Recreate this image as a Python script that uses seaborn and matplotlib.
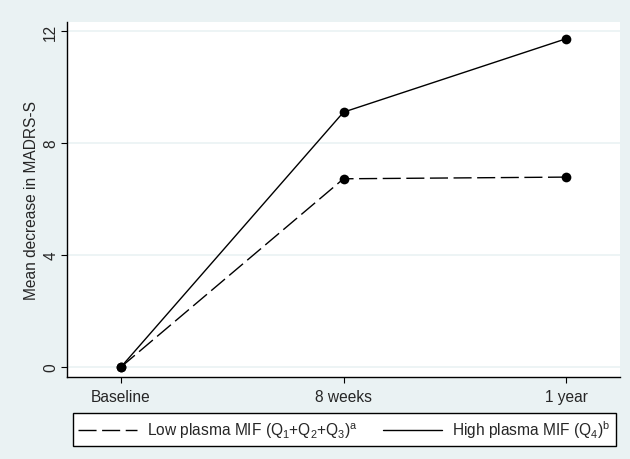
import pandas as pd
import matplotlib.pyplot as plt
import seaborn as sns
from matplotlib.lines import Line2D

# === Data ===
timepoints = ["Baseline", "8 weeks", "1 year"]
low_mif = [0.0, 6.72, 6.78]
high_mif = [0.0, 9.1, 11.72]
yticks = [0, 4, 8, 12]

low_label = r"Low plasma MIF (Q$_1$+Q$_2$+Q$_3$)$^{\mathrm{a}}$"
high_label = r"High plasma MIF (Q$_4$)$^{\mathrm{b}}$"

df = pd.DataFrame({
    "time": list(range(len(timepoints))) * 2,
    "value": low_mif + high_mif,
    "group": [low_label] * len(low_mif) + [high_label] * len(high_mif),
})

sns.set_style("white")
plt.rcParams["font.family"] = ["Liberation Sans", "DejaVu Sans"]
plt.rcParams["mathtext.fontset"] = "custom"
plt.rcParams["mathtext.rm"] = "Liberation Sans"

bg = "#eaf2f3"
dash = (13, 4)
fs = 11.2

fig = plt.figure(figsize=(6.3, 4.6), dpi=100, facecolor=bg)
ax = fig.add_axes([67 / 630, (460 - 378) / 460, (620 - 67) / 630, (378 - 23) / 460])
ax.set_facecolor("white")

sns.lineplot(
    data=df, x="time", y="value", style="group",
    dashes={low_label: dash, high_label: ""},
    markers={low_label: "o", high_label: "o"},
    color="black", linewidth=1.0, markersize=7, markeredgewidth=0,
    ax=ax, legend=False,
)

# grid & axes
ax.set_yticks(yticks)
ax.yaxis.grid(True, color=bg, linewidth=1.2)
ax.set_axisbelow(True)
ax.set_xlim(-0.243, 2.243)
ax.set_ylim(-0.36, 12.32)
ax.set_xticks(range(len(timepoints)))
ax.set_xticklabels(timepoints)
ax.set_xlabel("")
ax.set_ylabel("Mean decrease in MADRS-S", fontsize=fs, labelpad=3)
for lbl in ax.get_yticklabels():
    lbl.set_rotation(90)
    lbl.set_va("center")
ax.tick_params(axis="both", direction="out", length=4.3, width=0.8, color="black",
               labelsize=fs, left=True, bottom=True)
ax.tick_params(axis="y", pad=2)
ax.tick_params(axis="x", pad=4)
for side in ["top", "right"]:
    ax.spines[side].set_visible(False)
for side in ["left", "bottom"]:
    ax.spines[side].set_color("black")
    ax.spines[side].set_linewidth(1.0)

# legend box below the plot
handles = [
    Line2D([], [], color="black", linewidth=1.0, dashes=dash),
    Line2D([], [], color="black", linewidth=1.0),
]
leg = fig.legend(
    handles, [low_label, high_label], ncol=2,
    loc="upper left", bbox_to_anchor=(72.5 / 630, 1 - 414 / 460),
    borderaxespad=0, frameon=True, fancybox=False, edgecolor="black",
    facecolor="white", framealpha=1, fontsize=fs,
    handlelength=3.8, handletextpad=0.65, columnspacing=1.6,
    borderpad=0.35,
)
leg.get_frame().set_linewidth(1.0)

fig.savefig("out.png", dpi=100, facecolor=bg)
